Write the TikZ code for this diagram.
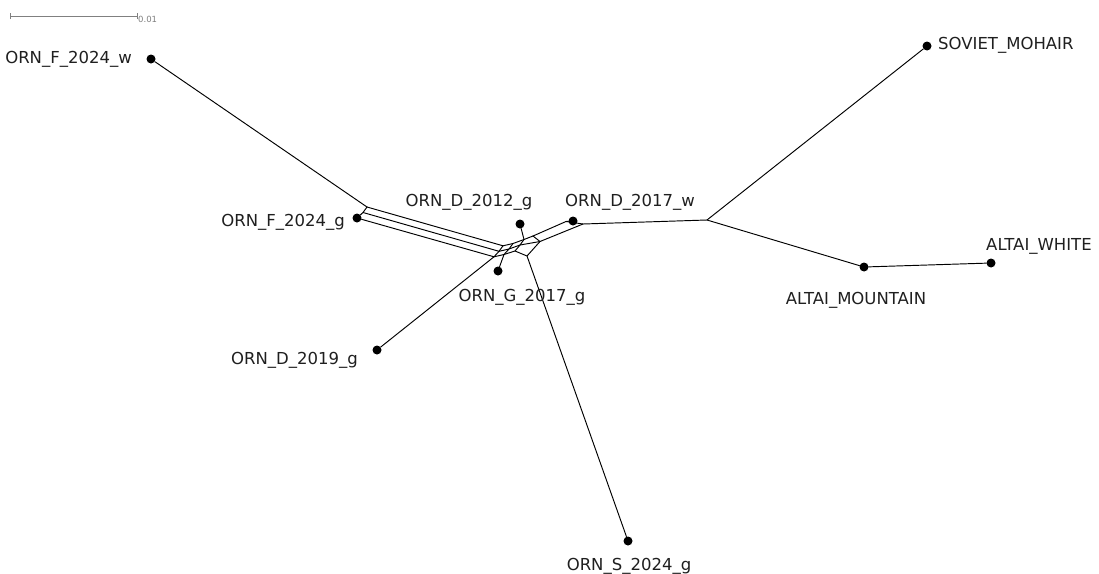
\documentclass[tikz,border=0pt]{standalone}
\usepackage{fontspec}
\newfontfamily\lab{DejaVu Sans}
\begin{document}
\begin{tikzpicture}[x=1pt,y=-1pt,
  edge/.style={line width=0.95pt, line join=round, line cap=round},
  leaf/.style={circle, fill=black, inner sep=0pt, minimum size=9pt},
  lbl/.style={font=\lab\fontsize{16.5}{18}\selectfont, inner sep=0pt, text=black!88}]
\useasboundingbox (0,0) rectangle (1099,573);
% scale bar
\coordinate (sb1) at (10,16);
\coordinate (sb2) at (137,16);
\draw[gray, line width=1pt] (sb1) -- (sb2);
\draw[gray, line width=0.8pt] ([yshift=-3pt]sb1) -- ([yshift=3pt]sb1);
\draw[gray, line width=0.8pt] ([yshift=-3pt]sb2) -- ([yshift=3pt]sb2);
\node[font=\lab\fontsize{8.5}{10}\selectfont, text=gray, inner sep=0pt, anchor=base west] (sbl) at (138,22) {0.01};
% leaves
\node[leaf] (fw) at (151,59) {};
\node[leaf] (fg) at (357,218) {};
\node[leaf] (d12) at (520,224) {};
\node[leaf] (d17) at (573,221) {};
\node[leaf] (g17) at (498,271) {};
\node[leaf] (d19) at (377,350) {};
\node[leaf] (s24) at (628,541) {};
\node[leaf] (sov) at (927,46) {};
\node[leaf] (am) at (864,267) {};
\node[leaf] (aw) at (991,263) {};
% internal points
\coordinate (A) at (367,207);
\coordinate (M) at (363,212.5);
\coordinate (A1) at (503,245.8);
\coordinate (M1) at (499,251.3);
\coordinate (D1) at (494,256.8);
\coordinate (B0) at (513,243.5);
\coordinate (B1) at (509,249);
\coordinate (B2) at (504,254.5);
\coordinate (C0) at (524,239.5);
\coordinate (C1) at (520,245);
\coordinate (C2) at (515,251);
\coordinate (U1) at (533,236);
\coordinate (L1) at (540,241.5);
\coordinate (E2) at (527,256);
\coordinate (U2) at (566,221.5);
\coordinate (L2) at (583,224);
\coordinate (J) at (707,220);
% edges
\draw[edge] (fw) -- (A);
\draw[edge] (A) -- (M) -- (fg);
\draw[edge] (A) -- (A1);
\draw[edge] (M) -- (M1);
\draw[edge] (fg) -- (D1);
\draw[edge] (A1) -- (M1) -- (D1);
\draw[edge] (B0) -- (B1) -- (B2);
\draw[edge] (C0) -- (C1) -- (C2);
\draw[edge] (A1) -- (B0) -- (C0) -- (U1);
\draw[edge] (M1) -- (B1) -- (C1) -- (L1);
\draw[edge] (D1) -- (B2) -- (C2) -- (E2) -- (L1);
\draw[edge] (U1) -- (L1);
\draw[edge] (U1) -- (U2);
\draw[edge] (L1) -- (L2);
\draw[edge] (U2) -- (L2);
\draw[edge] (d17) -- (U2);
\draw[edge] (L2) -- (J);
\draw[edge] (d12) -- (C0);
\draw[edge] (g17) -- (B2);
\draw[edge] (d19) -- (D1);
\draw[edge] (s24) -- (E2);
\draw[edge] (J) -- (sov);
\draw[edge] (J) -- (am);
\draw[edge] (am) -- (aw);
% labels
\node[lbl, anchor=base east] (fwl) at (132,63) {ORN\_F\_2024\_w};
\node[lbl, anchor=base east] (fgl) at (345,226) {ORN\_F\_2024\_g};
\node[lbl, anchor=base] (d12l) at (469,206) {ORN\_D\_2012\_g};
\node[lbl, anchor=base west] (d17l) at (565,206) {ORN\_D\_2017\_w};
\node[lbl, anchor=base west] (sovl) at (938,49) {SOVIET\_MOHAIR};
\node[lbl, anchor=base west] (awl) at (986,250) {ALTAI\_WHITE};
\node[lbl, anchor=base] (aml) at (856,304) {ALTAI\_MOUNTAIN};
\node[lbl, anchor=base] (g17l) at (522,301) {ORN\_G\_2017\_g};
\node[lbl, anchor=base east] (d19l) at (358,364) {ORN\_D\_2019\_g};
\node[lbl, anchor=base] (s24l) at (629,570) {ORN\_S\_2024\_g};
\end{tikzpicture}
\end{document}
